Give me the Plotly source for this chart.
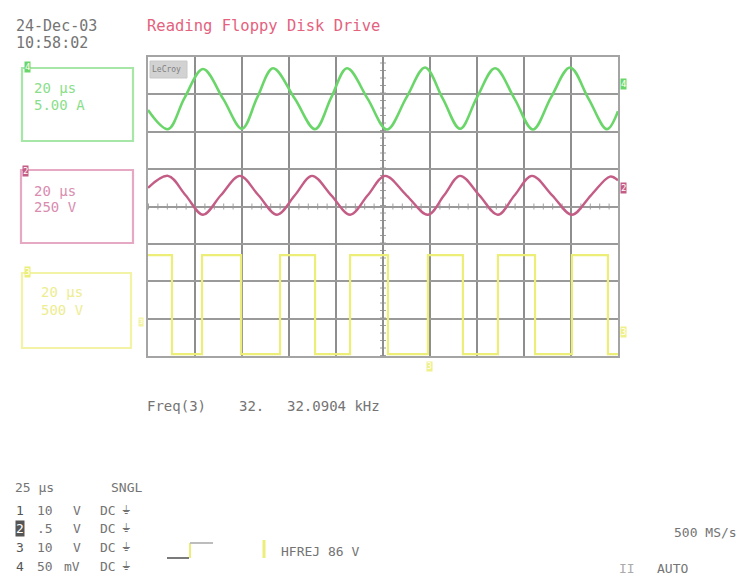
import plotly.graph_objects as go

# ---------------- data (time in µs, amplitude in divisions) ----------------
green_t = [0, 8.5, 15.5, 23.4, 32.0, 40.0, 46.5, 53.2, 62.5, 71.1, 78.0, 84.7, 93.5,
           101.7, 110.0, 117.9, 125.5, 132.8, 140.0, 147.7, 156.0, 163.8, 171.5,
           179.6, 187.5, 195.3, 200]
green_v = [2.58, 2.07, 2.9, 3.68, 2.88, 2.08, 2.92, 3.7, 2.88, 2.07, 2.92, 3.7, 2.88,
           2.06, 2.92, 3.72, 2.88, 2.08, 2.92, 3.7, 2.88, 2.06, 2.92, 3.72, 2.88,
           2.07, 2.55]

pink_t = [0, 8.5, 16.0, 23.4, 31.0, 39.1, 47.0, 54.9, 62.5, 69.8, 78.0, 86.0, 93.5,
          100.9, 110.0, 119.1, 126.0, 132.8, 141.0, 148.9, 156.0, 163.4, 172.0,
          180.4, 188.5, 196.6, 200]
pink_v = [0.5, 0.82, 0.3, -0.22, 0.3, 0.82, 0.3, -0.22, 0.3, 0.82, 0.3, -0.22, 0.3,
          0.82, 0.3, -0.22, 0.3, 0.82, 0.3, -0.22, 0.3, 0.82, 0.3, -0.22, 0.3,
          0.8, 0.7]

yellow_t = [0, 10.2, 23.0, 39.6, 56.2, 71.1, 86.0, 102.1, 119.1, 134.0, 148.9,
            164.7, 180.4, 195.7, 200]
yellow_v = [-1.3, -3.95, -1.3, -3.95, -1.3, -3.95, -1.3, -3.95, -1.3, -3.95, -1.3,
            -3.95, -1.3, -3.95, -3.95]

title_text = "Reading Floppy Disk Drive"
date_text = "24-Dec-03"
time_text = "10:58:02"
freq_label = "Freq(3)"
freq_stat = "32."
freq_value = "32.0904 kHz"
timebase = "20 µs"
box_scales = ["5.00 A", "250 V", "500 V"]
table_rows = [("1", "10", "V"), ("2", ".5", "V"), ("3", "10", "V"), ("4", "50", "mV")]

# ---------------- layout helpers ----------------
W, H = 741, 579
L, R, T, B = 148, 618, 57, 356


def px(x):
    return (x - L) / (R - L)


def py(y):
    return (B - y) / (B - T)


GREEN = "#6ad66a"
PINK = "#c45d86"
YELLOW = "#ecee78"
TXT = "#747474"
MONO = "DejaVu Sans Mono"

fig = go.Figure()
fig.add_trace(go.Scatter(x=green_t, y=green_v, mode="lines",
                         line=dict(color=GREEN, width=2.6, shape="spline", smoothing=1.0),
                         hoverinfo="skip"))
fig.add_trace(go.Scatter(x=pink_t, y=pink_v, mode="lines",
                         line=dict(color=PINK, width=2.4, shape="spline", smoothing=1.0),
                         hoverinfo="skip"))
fig.add_trace(go.Scatter(x=yellow_t, y=yellow_v, mode="lines",
                         line=dict(color=YELLOW, width=2.2, shape="hv"),
                         hoverinfo="skip"))

shapes = []
# center cross tick marks
shapes.append(dict(type="line", xref="x", yref="y", x0=100, x1=100, y0=-4, y1=4,
                   line=dict(color="#a0a0a0", width=6, dash="1px,6.5px"), layer="below"))
shapes.append(dict(type="line", xref="x", yref="y", x0=0, x1=200, y0=0, y1=0,
                   line=dict(color="#a0a0a0", width=6, dash="1px,8.4px"), layer="below"))


def rect(x0, y0, x1, y1, color, width=2.2, fill=None):
    shapes.append(dict(type="rect", xref="paper", yref="paper",
                       x0=px(x0), x1=px(x1), y0=py(y1), y1=py(y0),
                       line=dict(color=color, width=width),
                       fillcolor=fill if fill else "rgba(0,0,0,0)"))


def seg(x0, y0, x1, y1, color, width=2):
    shapes.append(dict(type="line", xref="paper", yref="paper",
                       x0=px(x0), x1=px(x1), y0=py(y0), y1=py(y1),
                       line=dict(color=color, width=width)))


# channel boxes
rect(22, 68, 133, 141, "#a6e6a6")
rect(21, 170, 133, 243, "#e6a9c4")
rect(22, 273, 131, 348, "#f3f3a6")
# LeCroy label box
rect(150, 61, 187, 78, "#c8c8c8", width=1, fill="#d2d2d2")
# trigger icon
seg(167, 558, 189, 558, "#7a7a7a", 2)
seg(190, 558, 190, 543, YELLOW, 2)
seg(190, 543, 213, 543, "#bdbdbd", 2)
seg(264, 540, 264, 558, YELLOW, 3)

ann = []


def text(x, y, s, color=TXT, size=14, xanchor="left", bg=None, fcolor=None):
    ann.append(dict(x=px(x), y=py(y), xref="paper", yref="paper", text=s,
                    showarrow=False, xanchor=xanchor, yanchor="middle",
                    font=dict(family=MONO, size=size, color=fcolor or color),
                    bgcolor=bg, borderpad=0))


text(15, 26, date_text, size=15)
text(15, 43, time_text, size=15)
text(146, 26, title_text, color="#e4627e", size=15.5)
text(151, 69.5, "LeCroy", color="#808080", size=8)

# channel labels
text(24, 67, "4", bg=GREEN, fcolor="white", size=9)
text(22, 171, "2", bg=PINK, fcolor="white", size=9)
text(24, 272, "3", bg=YELLOW, fcolor="white", size=9)
text(33, 88, timebase, color="#8ade8a", size=14)
text(33, 105, box_scales[0], color="#8ade8a", size=14)
text(33, 191, timebase, color="#d98cb0", size=14)
text(33, 207, box_scales[1], color="#d98cb0", size=14)
text(40, 292, timebase, color="#eded90", size=14)
text(40, 310, box_scales[2], color="#eded90", size=14)

# right-side trace markers
text(620, 84, "4", bg=GREEN, fcolor="white", size=9)
text(620, 188, "2", bg=PINK, fcolor="white", size=9)
text(620, 332, "3", bg="#f0f08a", fcolor="white", size=9)
text(138, 322, "3", bg="#f4f4a0", fcolor="white", size=7)
text(426, 366, "3", bg="#f0f08a", fcolor="white", size=8)

# frequency measurement
text(146, 406, freq_label, size=14)
text(238, 406, freq_stat, size=14)
text(286, 406, freq_value, size=14)

# bottom table
text(14, 487, timebase.replace("20", "25"), size=13)
text(110, 487, "SNGL", size=13)
row_y = [510, 528, 547, 566]
for (ch, val, unit), yy in zip(table_rows, row_y):
    if ch == "2":
        text(15, yy, ch, bg="#555555", fcolor="white", size=13)
    else:
        text(15, yy, ch, size=13, color="#555555")
    text(36, yy, val, size=13)
    text(72 if unit == "V" else 63, yy, unit, size=13)
    text(99, yy, "DC", size=13)
    text(121, yy, "⏚", size=12)

text(280, 551, "HFREJ 86 V", size=13)
text(738, 532, "500 MS/s", size=13, xanchor="right")
text(618, 568, "II", size=13, color="#aaaaaa")
text(656, 568, "AUTO", size=13)

fig.update_layout(
    width=W, height=H,
    margin=dict(l=L, r=W - R, t=T, b=H - B),
    paper_bgcolor="white", plot_bgcolor="white",
    showlegend=False,
    shapes=shapes, annotations=ann,
    xaxis=dict(range=[0, 200], tick0=0, dtick=20, showgrid=True,
               gridcolor="#8e8e8e", gridwidth=1.5, zeroline=False,
               showline=True, mirror=True, linecolor="#a4a4a4", linewidth=1.5,
               showticklabels=False, ticks="", fixedrange=True),
    yaxis=dict(range=[-4, 4], tick0=0, dtick=1, showgrid=True,
               gridcolor="#9a9a9a", gridwidth=1.5, zeroline=False,
               showline=True, mirror=True, linecolor="#a4a4a4", linewidth=1.5,
               showticklabels=False, ticks="", fixedrange=True),
)

fig.write_html("out.html", config={"displayModeBar": False},
               post_script="document.body.style.margin='0';document.body.style.overflow='hidden';")
